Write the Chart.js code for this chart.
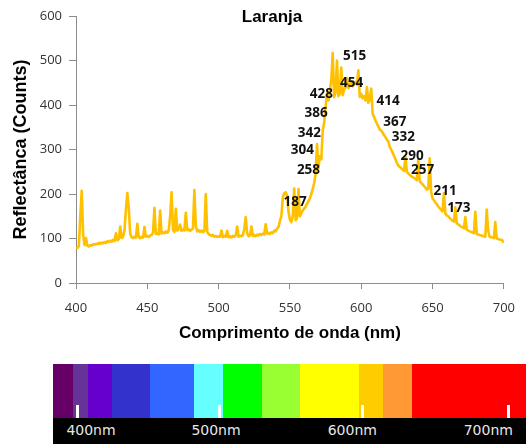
<!DOCTYPE html>
<html>
<head>
<meta charset="utf-8">
<script src="https://cdn.jsdelivr.net/npm/chart.js@4/dist/chart.umd.min.js"></script>
<style>
  html, body { margin: 0; padding: 0; background: #fff; }
  #wrap { position: relative; width: 526px; height: 444px; overflow: hidden; }
  #chartBox { position: absolute; left: 0; top: 0; width: 526px; height: 350px; }
  #strip { position: absolute; left: 53px; top: 364px; width: 473px; height: 80px; }
  #bands { position: absolute; left: 0; top: 0; width: 100%; height: 54px; display: flex; }
  #bands div { height: 100%; }
  #scaleBar { position: absolute; left: 0; top: 54px; width: 100%; height: 26px; background: #000; }
  .nmTick { position: absolute; top: 41px; width: 3px; height: 13px; background: #fff; }
  .nmLabel { position: absolute; top: 56px; font: 14px "DejaVu Sans", sans-serif; color: #e6e6e6;
             transform: translateX(-50%); line-height: 20px; white-space: nowrap; }
</style>
</head>
<body>
<div id="wrap">
  <div id="chartBox"><canvas id="c"></canvas></div>
  <div id="strip">
    <div id="bands"></div>
    <div id="scaleBar"></div>
  </div>
</div>
<script>
// Reflectance spectrum, one reading per nanometre from 400 nm to 700 nm
const wavelengthStart = 400;
const reflectance = [
  80, 79, 83, 150, 207, 108, 85, 101, 84, 82,        // 400
  85, 84, 87, 86, 88, 87, 90, 88, 91, 89,            // 410
  92, 90, 94, 92, 95, 93, 97, 94, 112, 96,           // 420
  99, 127, 101, 104, 118, 165, 202, 168, 110, 103,   // 430
  101, 104, 102, 133, 103, 101, 104, 102, 126, 104,  // 440
  106, 103, 107, 108, 113, 169, 110, 112, 109, 163,  // 450
  111, 114, 112, 116, 113, 118, 150, 204, 119, 115,  // 460
  167, 118, 121, 131, 117, 120, 118, 158, 119, 121,  // 470
  117, 120, 122, 209, 128, 116, 119, 115, 118, 114,  // 480
  117, 200, 115, 110, 108, 106, 108, 104, 106, 103,  // 490
  105, 104, 118, 103, 106, 104, 117, 103, 105, 102,  // 500
  106, 104, 107, 127, 104, 106, 105, 108, 122, 148,  // 510
  112, 105, 107, 127, 106, 108, 105, 109, 107, 110,  // 520
  108, 111, 109, 132, 111, 113, 110, 114, 112, 118,  // 530
  116, 122, 126, 140, 150, 192, 201, 204, 196, 160,  // 540
  142, 137, 150, 212, 141, 146, 211, 150, 157, 163,  // 550
  167, 172, 178, 184, 190, 200, 212, 224, 245, 312,  // 560
  258, 285, 278, 342, 360, 395, 426, 410, 432, 455,  // 570
  517, 418, 428, 500, 420, 425, 484, 422, 435, 440,  // 580
  460, 438, 445, 450, 442, 448, 452, 446, 478, 418,  // 590
  425, 415, 420, 410, 440, 405, 412, 437, 380, 373,  // 600
  365, 358, 352, 345, 342, 338, 332, 328, 322, 318,  // 610
  306, 300, 293, 286, 278, 270, 264, 261, 258, 255,  // 620
  252, 283, 250, 246, 243, 240, 238, 236, 234, 231,  // 630
  278, 229, 225, 222, 218, 214, 210, 212, 280, 205,  // 640
  190, 186, 181, 177, 172, 168, 165, 161, 202, 156,  // 650
  152, 150, 146, 143, 140, 138, 170, 134, 132, 129,  // 660
  127, 125, 123, 148, 120, 118, 116, 115, 113, 112,  // 670
  160, 110, 109, 108, 107, 106, 105, 104, 165, 118,  // 680
  104, 103, 102, 101, 137, 100, 99, 98, 97, 96,      // 690
  90                                                 // 700
];

// Annotated peak values and the wavelengths where they are written
const peakLabelNm = [553.6, 563, 558.7, 563.6, 568.3, 572, 593.3, 595.4, 618.9, 623.6, 629.6, 635.7, 643, 658.8, 668.5];
const peakLabelValues = [187, 258, 304, 342, 386, 428, 454, 515, 414, 367, 332, 290, 257, 211, 173];

// Axis ticks
const xTicks = [400, 450, 500, 550, 600, 650, 700];
const yTicks = [0, 100, 200, 300, 400, 500, 600];

// Visible-light colour strip under the chart
const bandColors = ['#660066', '#663399', '#6600CC', '#3333CC', '#3366FF', '#66FFFF', '#00FF00',
                    '#99FF33', '#FFFF00', '#FFCC00', '#FF9933', '#FF0000'];
const bandWidths = [20, 15, 24, 38.3, 44, 29, 38.7, 38.3, 58.3, 24, 29.7, 114];
const stripLabels = ['400nm', '500nm', '600nm', '700nm'];
const stripLabelX = [38, 163, 299.3, 435.3];
const stripTickX = [24, 166.5, 309.5, 455];

const bandsEl = document.getElementById('bands');
bandColors.forEach((col, i) => {
  const d = document.createElement('div');
  d.style.background = col;
  d.style.width = bandWidths[i] + 'px';
  d.style.flex = '0 0 auto';
  bandsEl.appendChild(d);
});
const stripEl = document.getElementById('strip');
stripTickX.forEach(x => {
  const t = document.createElement('div');
  t.className = 'nmTick';
  t.style.left = (x - 1.5) + 'px';
  stripEl.appendChild(t);
});
stripLabels.forEach((txt, i) => {
  const l = document.createElement('div');
  l.className = 'nmLabel';
  l.style.left = stripLabelX[i] + 'px';
  l.textContent = txt;
  stripEl.appendChild(l);
});

const spectrumPoints = reflectance.map((v, i) => ({ x: wavelengthStart + i, y: v }));
const peakPoints = peakLabelNm.map((x, i) => ({ x: x, y: peakLabelValues[i] }));

const AXIS_GREY = '#8c8c8c';
const TICK_FONT = { family: '"Open Sans", sans-serif', size: 13 };

// Writes the peak values on top of the curve
const peakLabels = {
  id: 'peakLabels',
  afterDatasetsDraw(chart) {
    const meta = chart.getDatasetMeta(1);
    const ctx = chart.ctx;
    ctx.save();
    ctx.font = 'bold 13.5px "Open Sans", sans-serif';
    ctx.fillStyle = '#111';
    ctx.textAlign = 'center';
    ctx.textBaseline = 'middle';
    meta.data.forEach((pt, i) => {
      ctx.fillText(String(peakLabelValues[i]), pt.x, pt.y + 2);
    });
    ctx.restore();
  }
};

// Chart heading, drawn over the top of the plot area
const heading = {
  id: 'heading',
  afterDraw(chart) {
    const ctx = chart.ctx;
    ctx.save();
    ctx.font = 'bold 17px "Liberation Sans", Arial, sans-serif';
    ctx.fillStyle = '#000';
    ctx.textAlign = 'center';
    ctx.textBaseline = 'middle';
    ctx.fillText('Laranja', 272, 17);
    ctx.restore();
  }
};

new Chart(document.getElementById('c'), {
  type: 'line',
  data: {
    datasets: [
      {
        data: spectrumPoints,
        borderColor: '#FFC000',
        borderWidth: 2.6,
        borderJoinStyle: 'round',
        pointRadius: 0,
        tension: 0,
        fill: false
      },
      {
        data: peakPoints,
        showLine: false,
        pointRadius: 0,
        borderColor: 'transparent',
        backgroundColor: 'transparent'
      }
    ]
  },
  options: {
    responsive: true,
    maintainAspectRatio: false,
    animation: false,
    events: [],
    layout: { padding: { top: 16, right: 20.5, left: 0, bottom: 0 } },
    plugins: { legend: { display: false }, tooltip: { enabled: false }, title: { display: false } },
    scales: {
      x: {
        type: 'linear',
        min: 400,
        max: 700,
        afterBuildTicks: s => { s.ticks = xTicks.map(v => ({ value: v })); },
        afterFit: s => { s.height = 67; },
        ticks: { font: TICK_FONT, color: '#333', padding: 11, maxRotation: 0 },
        grid: { drawOnChartArea: false, drawTicks: true, tickLength: 6, color: AXIS_GREY },
        border: { color: AXIS_GREY, width: 1 },
        title: {
          display: true,
          text: 'Comprimento de onda (nm)',
          font: { family: '"Liberation Sans", Arial, sans-serif', size: 17, weight: 'bold' },
          color: '#000',
          padding: { top: 0, bottom: 6 }
        }
      },
      y: {
        min: 0,
        max: 600,
        afterBuildTicks: s => { s.ticks = yTicks.map(v => ({ value: v })); },
        afterFit: s => { s.width = 76; },
        ticks: { font: TICK_FONT, color: '#333', padding: 7 },
        grid: { drawOnChartArea: false, drawTicks: true, tickLength: 7, color: AXIS_GREY },
        border: { color: AXIS_GREY, width: 1 },
        title: {
          display: true,
          text: 'Reflectânca (Counts)',
          font: { family: '"Liberation Sans", Arial, sans-serif', size: 18, weight: 'bold' },
          color: '#000',
          padding: { top: 10, bottom: 0 }
        }
      }
    }
  },
  plugins: [peakLabels, heading]
});
</script>
</body>
</html>
